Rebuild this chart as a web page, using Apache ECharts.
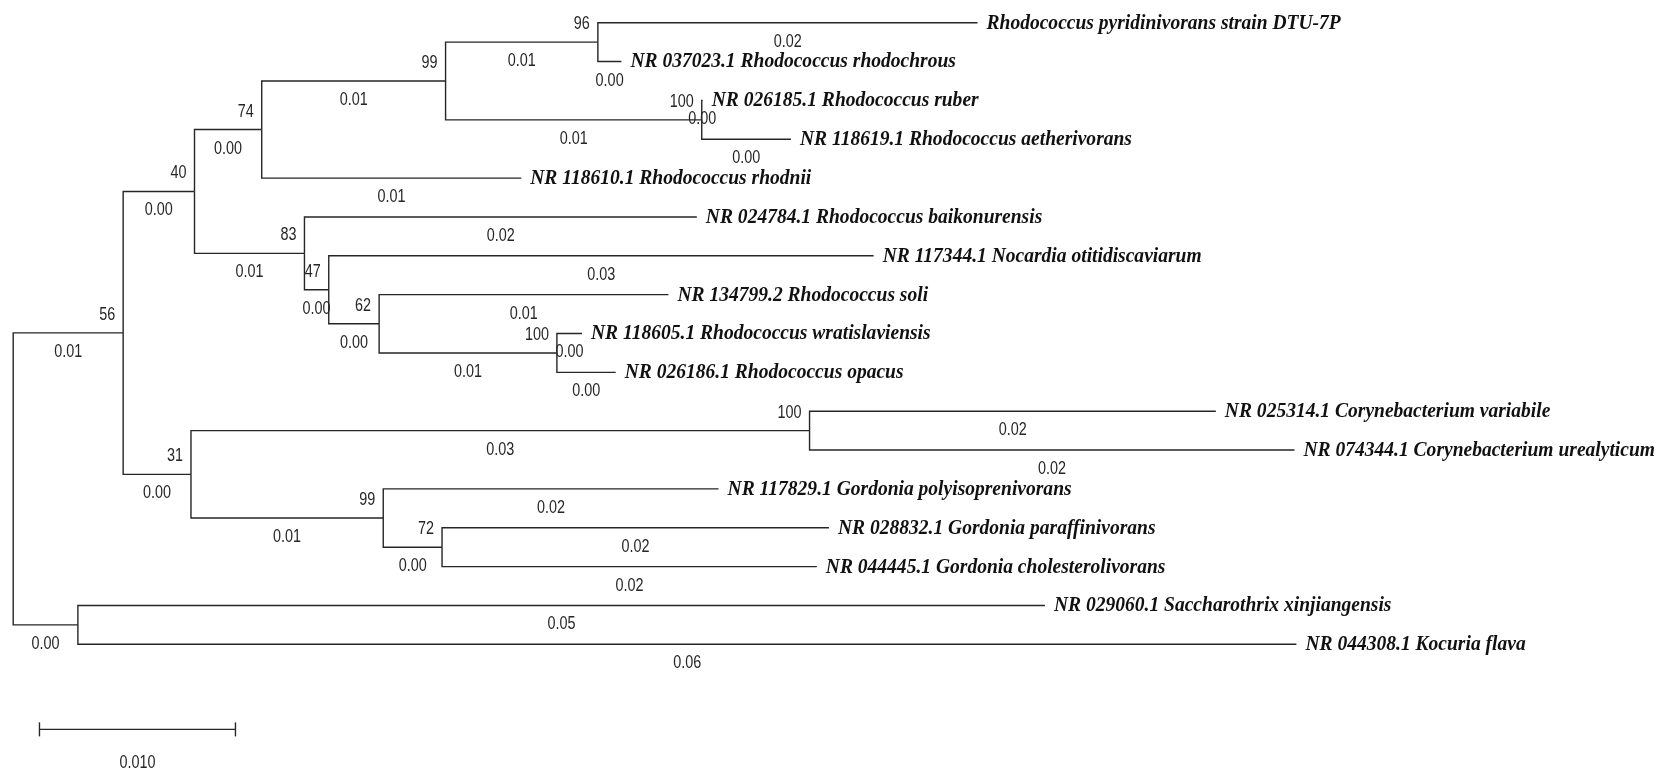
<!DOCTYPE html>
<html>
<head>
<meta charset="utf-8">
<script src="https://cdn.jsdelivr.net/npm/echarts@6/dist/echarts.min.js"></script>
<style>
  html, body { margin: 0; padding: 0; background: #ffffff; }
  #chart { width: 1665px; height: 784px; }
</style>
</head>
<body>
<div id="chart"></div>
<script>
// Phylogenetic tree of Rhodococcus and related actinobacteria (16S rRNA),
// branch lengths in substitutions per site, bootstrap support at internal nodes.

// Nodes in preorder: parent index (-1 = root)
const nodeParent = [-1, 0, 1, 2, 3, 4, 5, 5, 4, 8, 8, 3, 2, 12, 12, 14, 14, 16, 16, 18, 18,
                    1, 21, 22, 22, 21, 25, 25, 27, 27, 0, 30, 30];

// Length of the branch leading to each node
const branchLength = [0, 0.00561, 0.00364, 0.00343, 0.00938, 0.00777, 0.01937, 0.0012,
                      0.01307, 0.00005, 0.00455, 0.01324, 0.00561, 0.02002, 0.00124, 0.0278,
                      0.00257, 0.01476, 0.00907, 0.00128, 0.003, 0.00346, 0.03156, 0.02073,
                      0.02474, 0.00981, 0.01711, 0.003, 0.01974, 0.01912, 0.0033, 0.04934, 0.06217];

// Bootstrap values (null where none is shown)
const bootstrap = [null, 56, 40, 74, 99, 96, null, null, 100, null, null, null, 83, null, 47,
                   null, 62, null, 100, null, null, 31, 100, null, null, 99, null, 72, null,
                   null, null, null, null];

// Terminal taxa, top to bottom
const taxa = [
  'Rhodococcus pyridinivorans strain DTU-7P',
  'NR 037023.1 Rhodococcus rhodochrous',
  'NR 026185.1 Rhodococcus ruber',
  'NR 118619.1 Rhodococcus aetherivorans',
  'NR 118610.1 Rhodococcus rhodnii',
  'NR 024784.1 Rhodococcus baikonurensis',
  'NR 117344.1 Nocardia otitidiscaviarum',
  'NR 134799.2 Rhodococcus soli',
  'NR 118605.1 Rhodococcus wratislaviensis',
  'NR 026186.1 Rhodococcus opacus',
  'NR 025314.1 Corynebacterium variabile',
  'NR 074344.1 Corynebacterium urealyticum',
  'NR 117829.1 Gordonia polyisoprenivorans',
  'NR 028832.1 Gordonia paraffinivorans',
  'NR 044445.1 Gordonia cholesterolivorans',
  'NR 029060.1 Saccharothrix xinjiangensis',
  'NR 044308.1 Kocuria flava'
];

// Scale bar length
const scaleBarLength = 0.010;
const scaleBarLabel = '0.010';

// ---- tree layout: x = cumulative branch length, y = tip row ----
const n = nodeParent.length;
const children = Array.from({ length: n }, () => []);
for (let i = 1; i < n; i++) children[nodeParent[i]].push(i);

const nx = new Array(n).fill(0);
for (let i = 1; i < n; i++) nx[i] = nx[nodeParent[i]] + branchLength[i];

const ny = new Array(n).fill(0);
const tipOf = new Array(n).fill(-1);
let row = 0;
for (let i = 0; i < n; i++) {
  if (children[i].length === 0) { tipOf[i] = row; ny[i] = row; row++; }
}
for (let i = n - 1; i >= 0; i--) {
  const c = children[i];
  if (c.length) ny[i] = (ny[c[0]] + ny[c[c.length - 1]]) / 2;
}

const branchData = [];
const supportData = [];
const tipData = [];
for (let i = 0; i < n; i++) {
  if (i > 0) branchData.push([nx[i], ny[i], nx[nodeParent[i]], ny[nodeParent[i]], branchLength[i]]);
  if (bootstrap[i] != null) supportData.push([nx[i], ny[i], bootstrap[i]]);
  if (tipOf[i] >= 0) tipData.push([nx[i], ny[i], tipOf[i]]);
}

const LINE = '#262626';
const NUM_COLOR = '#262626';
// narrow numerals: regular sans squeezed horizontally
const NUM_FONT = '18px "Liberation Sans", Arial, sans-serif';
const NUM_SQUEEZE = 0.8;
const TIP_FONT = 'italic bold 21px "Liberation Serif", "Times New Roman", serif';
const TIP_SQUEEZE = 0.93;

function numText(str, x, y, align) {
  return {
    type: 'text',
    x: x, y: y,
    scaleX: NUM_SQUEEZE,
    style: {
      text: str, x: 0, y: 0,
      align: align, verticalAlign: 'middle',
      font: NUM_FONT, fill: NUM_COLOR
    }
  };
}

const chart = echarts.init(document.getElementById('chart'), null, { renderer: 'canvas' });

chart.setOption({
  backgroundColor: '#ffffff',
  animation: false,
  grid: { left: 13.2, right: 83.8, top: 22.7, bottom: 23.15 },
  xAxis: { type: 'value', min: 0, max: 0.08, show: false },
  yAxis: { type: 'value', min: 0, max: 19, inverse: true, show: false },
  series: [
    {
      // branches drawn as elbows from parent to child, with rounded length below
      type: 'custom',
      coordinateSystem: 'cartesian2d',
      data: branchData,
      silent: true,
      renderItem: function (params, api) {
        const c = api.coord([api.value(0), api.value(1)]);
        const p = api.coord([api.value(2), api.value(3)]);
        return {
          type: 'group',
          children: [
            {
              type: 'polyline',
              shape: { points: [[p[0], p[1]], [p[0], c[1]], [c[0], c[1]]] },
              style: { stroke: LINE, lineWidth: 1.4, fill: null }
            },
            numText(api.value(4).toFixed(2), (p[0] + c[0]) / 2, c[1] + 19, 'center')
          ]
        };
      }
    },
    {
      // bootstrap support at internal nodes
      type: 'custom',
      coordinateSystem: 'cartesian2d',
      data: supportData,
      silent: true,
      renderItem: function (params, api) {
        const pt = api.coord([api.value(0), api.value(1)]);
        return numText(String(api.value(2)), pt[0] - 8, pt[1] - 18, 'right');
      }
    },
    {
      // taxon names at the tips
      type: 'custom',
      coordinateSystem: 'cartesian2d',
      data: tipData,
      silent: true,
      renderItem: function (params, api) {
        const pt = api.coord([api.value(0), api.value(1)]);
        return {
          type: 'text',
          x: pt[0] + 9, y: pt[1] + 0.5,
          scaleX: TIP_SQUEEZE,
          style: {
            text: taxa[api.value(2)], x: 0, y: 0,
            align: 'left', verticalAlign: 'middle',
            font: TIP_FONT, fill: '#111111'
          }
        };
      }
    },
    {
      // scale bar
      type: 'custom',
      coordinateSystem: 'cartesian2d',
      data: [[0.00134, 18.19, scaleBarLength]],
      silent: true,
      renderItem: function (params, api) {
        const a = api.coord([api.value(0), api.value(1)]);
        const b = api.coord([api.value(0) + api.value(2), api.value(1)]);
        const st = { stroke: LINE, lineWidth: 1.4 };
        return {
          type: 'group',
          children: [
            { type: 'line', shape: { x1: a[0], y1: a[1], x2: b[0], y2: b[1] }, style: st },
            { type: 'line', shape: { x1: a[0], y1: a[1] - 7, x2: a[0], y2: a[1] + 7 }, style: st },
            { type: 'line', shape: { x1: b[0], y1: b[1] - 7, x2: b[0], y2: b[1] + 7 }, style: st },
            numText(scaleBarLabel, (a[0] + b[0]) / 2, a[1] + 34, 'center')
          ]
        };
      }
    }
  ]
});
</script>
</body>
</html>
